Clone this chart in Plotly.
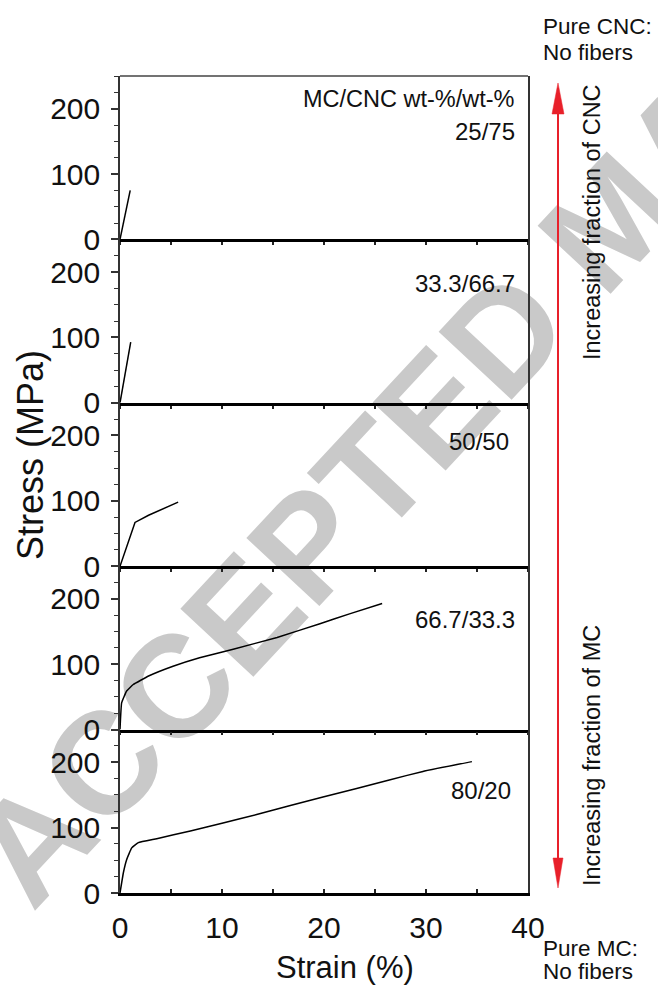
import plotly.graph_objects as go
from plotly.subplots import make_subplots

# ---------------- data ----------------
panel_labels = ["25/75", "33.3/66.7", "50/50", "66.7/33.3", "80/20"]

strain_25_75 = [0, 1.0]
stress_25_75 = [0, 75]

strain_33_67 = [0, 1.05]
stress_33_67 = [0, 93]

strain_50_50 = [0, 1.47, 2.8, 4.2, 5.7]
stress_50_50 = [0, 67, 78, 88, 98]

strain_67_33 = [0, 0.16, 0.65, 1.3, 2.8, 5.2, 7.8, 11.1, 15.4, 19.6, 22.5, 25.7]
stress_67_33 = [0, 41, 59, 69, 82, 97, 110, 123, 141, 162, 177, 193]

strain_80_20 = [0, 0.33, 0.65, 1.15, 1.8, 3.6, 6.9, 10.1, 13.4, 16.7, 19.9, 23.2, 26.4, 29.7, 34.5]
stress_80_20 = [0, 31, 51, 69, 77, 83, 95, 107, 120, 134, 147, 160, 173, 186, 201]

series = [
    (strain_25_75, stress_25_75),
    (strain_33_67, stress_33_67),
    (strain_50_50, stress_50_50),
    (strain_67_33, stress_67_33),
    (strain_80_20, stress_80_20),
]

x_ticks = [0, 5, 10, 15, 20, 25, 30, 35, 40]
x_ticktext = ["0", "", "10", "", "20", "", "30", "", "40"]
y_ticks = [0, 100, 200]

# ---------------- layout geometry ----------------
W, H = 658, 987
ML, MR, MT, MB = 120, 130, 76, 94
PW, PH = W - ML - MR, H - MT - MB
FONT = "Liberation Sans, Arial, sans-serif"


def X(px):
    return (px - ML) / PW


def Y(py):
    return (H - MB - py) / PH


fig = make_subplots(rows=5, cols=1, vertical_spacing=0)

for i, (sx, sy) in enumerate(series):
    smooth = i >= 3
    fig.add_trace(
        go.Scatter(
            x=sx, y=sy, mode="lines",
            line=dict(color="black", width=1.5,
                      shape="spline" if smooth else "linear",
                      smoothing=0.3 if smooth else None),
            showlegend=False, hoverinfo="skip",
        ),
        row=i + 1, col=1,
    )

for i in range(5):
    last = i == 4
    fig.update_xaxes(
        row=i + 1, col=1,
        range=[0, 40], showgrid=False, zeroline=False,
        showline=True, linecolor="black", linewidth=2.5,
        tickmode="array", tickvals=x_ticks, ticktext=x_ticktext,
        ticks="inside" if last else "outside", ticklen=4 if last else 3,
        tickwidth=1.5, tickcolor="#222",
        showticklabels=last,
        tickfont=dict(family=FONT, size=30, color="#111"),
        ticklabelstandoff=6,
    )
    fig.update_yaxes(
        row=i + 1, col=1,
        range=[0, 250], showgrid=False, zeroline=False,
        showline=True, linecolor="#333", linewidth=1.5, mirror=True,
        tickmode="array", tickvals=y_ticks,
        ticks="outside", ticklen=7, tickwidth=1.5, tickcolor="#333",
        minor=dict(dtick=25, tick0=0, ticks="outside", ticklen=4,
                   tickwidth=1.2, tickcolor="#333", showgrid=False),
        tickfont=dict(family=FONT, size=30, color="#111"),
        ticklabelstandoff=5,
    )

# top border of the plot area
fig.add_shape(type="line", xref="paper", yref="paper", x0=0, x1=1, y0=1, y1=1,
              line=dict(color="#444", width=1.5))

# watermark (drawn underneath the chart)
fig.add_shape(
    type="rect", xref="paper", yref="paper",
    x0=X(596), x1=X(606), y0=Y(215), y1=Y(205),
    line=dict(width=0, color="rgba(0,0,0,0)"), fillcolor="rgba(0,0,0,0)",
    layer="below",
    label=dict(text="ACCEPTED MANUSCRIPT", textangle=-47,
               textposition="middle center",
               font=dict(family=FONT, size=145, color="#c9c9c9", weight="bold")),
)

annotations = []


def txt(text, px, py, size, xanchor="center", angle=0):
    annotations.append(dict(text=text, x=X(px), y=Y(py), xref="paper", yref="paper",
                            xanchor=xanchor, yanchor="middle", textangle=angle,
                            showarrow=False, font=dict(family=FONT, size=size, color="#111")))


# panel labels
label_pos = [(517, 131), (517, 283), (511, 441), (517, 619), (513, 790)]
txt("MC/CNC wt-%/wt-%", 517, 99, 23.5, xanchor="right")
for lab, (px, py) in zip(panel_labels, label_pos):
    txt(lab, px, py, 24, xanchor="right")

# axis titles
txt("Stress (MPa)", 30, 455, 36, angle=-90)
txt("Strain (%)", 345, 968, 31)

# right-side texts
txt("Pure CNC:", 541, 27, 22.5, xanchor="left")
txt("No fibers", 541, 53, 22.5, xanchor="left")
txt("Pure MC:", 541, 948, 22.5, xanchor="left")
txt("No fibers", 541, 971, 22.5, xanchor="left")
txt("Increasing fraction of CNC", 592, 222, 23.5, angle=-90)
txt("Increasing fraction of MC", 592, 756, 23.5, angle=-90)

# red double-headed arrow
RED = "#e8202a"
ax_ = 558
fig.add_shape(type="line", xref="paper", yref="paper", x0=X(ax_), x1=X(ax_), y0=Y(105), y1=Y(865),
              line=dict(color=RED, width=2))
fig.add_shape(type="path", xref="paper", yref="paper",
              path=f"M {X(ax_)} {Y(83)} L {X(ax_-6)} {Y(114)} L {X(ax_+6)} {Y(114)} Z",
              fillcolor=RED, line=dict(color=RED, width=0.5))
fig.add_shape(type="path", xref="paper", yref="paper",
              path=f"M {X(ax_)} {Y(888)} L {X(ax_-5)} {Y(858)} L {X(ax_+5)} {Y(858)} Z",
              fillcolor=RED, line=dict(color=RED, width=0.5))

fig.update_layout(
    width=W, height=H,
    margin=dict(l=ML, r=MR, t=MT, b=MB, pad=0),
    paper_bgcolor="white", plot_bgcolor="rgba(0,0,0,0)",
    annotations=annotations,
    showlegend=False,
)

fig.write_html("out.html")
